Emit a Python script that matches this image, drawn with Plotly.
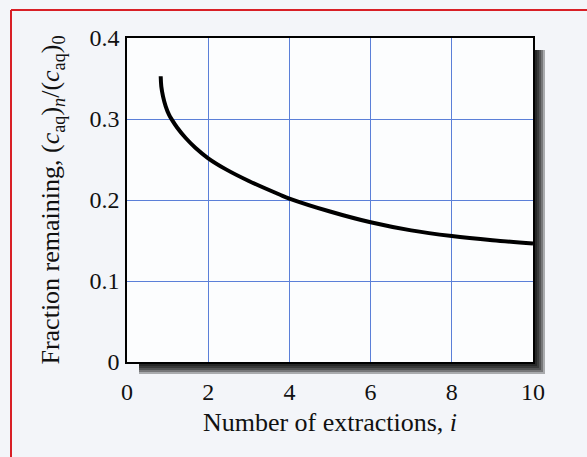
import plotly.graph_objects as go

# ---- data ----
extractions = [0.83, 0.845, 0.887, 0.953, 1.034, 1.101, 1.238, 1.445, 1.69, 2.0, 2.45,
               3.0, 3.77, 4.0, 5.0, 6.0, 7.0, 8.0, 9.0, 10.0]
fraction = [0.3527, 0.340, 0.328, 0.3157, 0.3054, 0.2995, 0.2892, 0.2765, 0.2642, 0.2515,
            0.2375, 0.2235, 0.2065, 0.2018, 0.1858, 0.1725, 0.1625, 0.1555, 0.1503, 0.1462]
x_ticks = [0, 2, 4, 6, 8, 10]
y_ticks = [0, 0.1, 0.2, 0.3, 0.4]
y_tick_text = ["0", "0.1", "0.2", "0.3", "0.4"]

W, H = 587, 457
ML, MR, MT, MB = 127, 54, 38, 95
PW, PH = W - ML - MR, H - MT - MB


def px_x(p):
    return (p - ML) / PW


def px_y(p):
    return 1 - (p - MT) / PH


serif = "Liberation Serif, Times New Roman, serif"
grid_blue = "#5b7fd8"

shapes = []
# drop shadow (right and bottom), built from stacked translucent rectangles
for s in [12, 10, 8, 6, 4]:
    shapes.append(dict(type="rect", xref="paper", yref="paper", layer="below",
                       x0=px_x(ML + 12), x1=px_x(ML + PW + s),
                       y0=px_y(MT + PH + s), y1=px_y(MT + 12),
                       fillcolor="rgba(0,0,0,0.3)", line=dict(width=0)))
# white plot surface
shapes.append(dict(type="rect", xref="paper", yref="paper", layer="below",
                   x0=0, x1=1, y0=0, y1=1, fillcolor="#fcfdfe", line=dict(width=0)))
# red page border (left and top)
shapes.append(dict(type="line", xref="paper", yref="paper",
                   x0=px_x(11), x1=px_x(11), y0=px_y(10), y1=px_y(H + 5),
                   line=dict(color="#d81f26", width=2)))
shapes.append(dict(type="line", xref="paper", yref="paper",
                   x0=px_x(11), x1=px_x(W + 5), y0=px_y(10), y1=px_y(10),
                   line=dict(color="#d81f26", width=2)))

fig = go.Figure()
fig.add_trace(go.Scatter(x=extractions, y=fraction, mode="lines",
                         line=dict(color="black", width=4, shape="spline", smoothing=1.0),
                         showlegend=False, hoverinfo="skip"))

fig.update_layout(
    width=W, height=H,
    margin=dict(l=ML, r=MR, t=MT, b=MB),
    paper_bgcolor="#f3f5f9",
    plot_bgcolor="rgba(0,0,0,0)",
    font=dict(family=serif, color="#111111", size=24),
    shapes=shapes,
    xaxis=dict(
        range=[0, 10], tickvals=x_ticks, ticktext=[str(v) for v in x_ticks],
        showgrid=True, gridcolor=grid_blue, gridwidth=1,
        zeroline=False, showline=True, linecolor="black", linewidth=1.6, mirror=True,
        ticks="outside", ticklen=7, tickcolor="rgba(0,0,0,0)",
        tickfont=dict(size=24),
        title=dict(text="Number of extractions, <i>i</i>", font=dict(size=26), standoff=9),
    ),
    yaxis=dict(
        range=[0, 0.4], tickvals=y_ticks, ticktext=y_tick_text,
        showgrid=True, gridcolor=grid_blue, gridwidth=1,
        zeroline=False, showline=True, linecolor="black", linewidth=1.6, mirror=True,
        ticks="outside", ticklen=1, tickcolor="rgba(0,0,0,0)",
        tickfont=dict(size=24),
        title=dict(text="Fraction remaining, (<i>c</i><sub>aq</sub>)<sub><i>n</i></sub>/(<i>c</i><sub>aq</sub>)<sub>0</sub>",
                   font=dict(size=26), standoff=22),
    ),
)

fig.write_html("out.html")
